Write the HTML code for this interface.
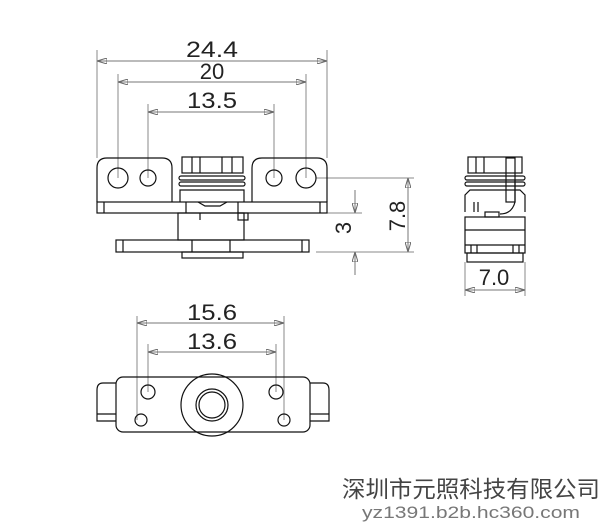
<!DOCTYPE html>
<html><head><meta charset="utf-8"><style>
html,body{margin:0;padding:0;background:#fff;width:608px;height:522px;overflow:hidden}
svg{display:block}
text{font-family:"Liberation Sans","Noto Sans CJK SC",sans-serif}
</style></head><body>
<svg width="608" height="522" viewBox="0 0 608 522" xmlns="http://www.w3.org/2000/svg">
<defs>
<marker id="a" viewBox="0 0 10 6" refX="10" refY="3" markerWidth="10" markerHeight="6" orient="auto-start-reverse"><path d="M0,0 L10,3 L0,6 Z" fill="none" stroke="#666" stroke-width="1"/></marker>
</defs>
<g stroke="#888" stroke-width="1" fill="none">
<line x1="97" y1="50" x2="97" y2="158"/><line x1="327" y1="50" x2="327" y2="158"/>
<line x1="118" y1="74" x2="118" y2="178"/><line x1="306" y1="74" x2="306" y2="178"/>
<line x1="148" y1="104" x2="148" y2="178"/><line x1="274" y1="104" x2="274" y2="178"/>
<line x1="316" y1="213" x2="362" y2="213"/>
<line x1="316" y1="178" x2="414" y2="178"/>
<line x1="316" y1="252" x2="414" y2="252"/>
<line x1="465" y1="262" x2="465" y2="296"/><line x1="525" y1="262" x2="525" y2="296"/>
<line x1="137" y1="316" x2="137" y2="420"/><line x1="284" y1="316" x2="284" y2="420"/>
<line x1="148" y1="344" x2="148" y2="392"/><line x1="276" y1="344" x2="276" y2="392"/>
</g>
<g stroke="#777" stroke-width="1" fill="none" marker-start="url(#a)" marker-end="url(#a)">
<line x1="97" y1="61" x2="327" y2="61"/>
<line x1="118" y1="82" x2="306" y2="82"/>
<line x1="148" y1="112" x2="274" y2="112"/>
<line x1="408" y1="178" x2="408" y2="252"/>
<line x1="465" y1="290" x2="525" y2="290"/>
<line x1="137" y1="323" x2="284" y2="323"/>
<line x1="148" y1="352" x2="276" y2="352"/>
</g>
<g stroke="#777" fill="none">
<line x1="355" y1="190" x2="355" y2="213" marker-end="url(#a)"/>
<line x1="355" y1="275" x2="355" y2="252" marker-end="url(#a)"/>
</g>
<g fill="#222" font-size="22" text-anchor="middle">
<text x="212" y="57" textLength="52" lengthAdjust="spacingAndGlyphs">24.4</text>
<text x="212" y="79">20</text>
<text x="212" y="108" textLength="50" lengthAdjust="spacingAndGlyphs">13.5</text>
<text x="212" y="320" textLength="50" lengthAdjust="spacingAndGlyphs">15.6</text>
<text x="212" y="349" textLength="50" lengthAdjust="spacingAndGlyphs">13.6</text>
<text x="494" y="285">7.0</text>
<text transform="translate(351,228) rotate(-90)">3</text>
<text transform="translate(405,216) rotate(-90)">7.8</text>
</g>
<g stroke="#111" stroke-width="1.2" fill="none">
<path d="M97,202 V168 Q97,158 107,158 H162 Q172,158 172,168 V202"/>
<path d="M252,202 V168 Q252,158 262,158 H317 Q327,158 327,168 V202"/>
<rect x="97" y="202" width="230" height="11"/>
<line x1="104" y1="202" x2="104" y2="213"/><line x1="320" y1="202" x2="320" y2="213"/>
<line x1="186" y1="202" x2="186" y2="213"/><line x1="238" y1="202" x2="238" y2="213"/>
<circle cx="118" cy="178" r="10"/><circle cx="148" cy="178" r="8"/>
<circle cx="274" cy="178" r="8"/><circle cx="306" cy="178" r="10"/>
<rect x="182" y="157" width="61" height="16"/>
<line x1="192" y1="157" x2="192" y2="173"/><line x1="200" y1="157" x2="200" y2="173"/>
<line x1="222" y1="157" x2="222" y2="173"/><line x1="232" y1="157" x2="232" y2="173"/>
<rect x="179" y="176" width="66" height="4" rx="2"/><rect x="179" y="182" width="66" height="4" rx="2"/>
<path d="M180,202 V190 H244 V202"/>
<path d="M198,202 L205,206 H220 L227,202"/>
<rect x="178" y="213" width="66" height="27"/>
<line x1="200" y1="213" x2="200" y2="220"/>
<rect x="238" y="213" width="10" height="7"/>
<rect x="116" y="240" width="193" height="12"/>
<line x1="123" y1="240" x2="123" y2="252"/><line x1="302" y1="240" x2="302" y2="252"/>
<line x1="192" y1="240" x2="192" y2="252"/><line x1="230" y1="240" x2="230" y2="252"/>
<rect x="182" y="252" width="61" height="6"/>
</g>
<g stroke="#111" stroke-width="1.2" fill="none">
<rect x="468" y="157" width="54" height="16"/>
<line x1="476" y1="157" x2="476" y2="173"/><line x1="484" y1="157" x2="484" y2="173"/>
<rect x="506" y="158" width="9" height="44"/>
<path d="M515,180 V202 Q512,214 500,214"/>
<rect x="465" y="176" width="60" height="4" rx="2"/><rect x="465" y="182" width="60" height="4" rx="2"/>
<path d="M465,212 V195 L470,190 H520 L525,195 V212"/>
<line x1="474" y1="202" x2="474" y2="212"/><line x1="478" y1="202" x2="478" y2="212"/>
<rect x="485" y="212" width="14" height="5"/>
<rect x="465" y="217" width="60" height="36"/>
<line x1="465" y1="230" x2="525" y2="230"/><line x1="465" y1="245" x2="525" y2="245"/>
<line x1="471" y1="245" x2="471" y2="253"/><line x1="519" y1="245" x2="519" y2="253"/>
<line x1="477" y1="245" x2="477" y2="253"/><line x1="513" y1="245" x2="513" y2="253"/>
<rect x="467" y="253" width="56" height="9"/>
</g>
<g stroke="#111" stroke-width="1.2" fill="none">
<rect x="116" y="377" width="194" height="55" rx="7"/>
<path d="M116,383 H103 Q97,383 97,390 V421 H116"/>
<line x1="97" y1="414" x2="116" y2="414"/>
<path d="M310,383 H323 Q329,383 329,390 V421 H310"/>
<line x1="310" y1="414" x2="329" y2="414"/>
<circle cx="212" cy="405" r="31"/>
<circle cx="212" cy="405" r="16"/><circle cx="212" cy="405" r="13"/>
<circle cx="148" cy="392" r="7"/><circle cx="141" cy="420" r="6"/>
<circle cx="276" cy="392" r="7"/><circle cx="284" cy="420" r="6"/>
</g>
<text x="471" y="497" font-size="23" text-anchor="middle" fill="#444" font-family="'Noto Sans CJK SC',sans-serif" textLength="258" lengthAdjust="spacingAndGlyphs">深圳市元照科技有限公司</text>
<text x="471" y="518" font-size="17" text-anchor="middle" fill="#777" textLength="218" lengthAdjust="spacingAndGlyphs">yz1391.b2b.hc360.com</text>
</svg>
</body></html>
